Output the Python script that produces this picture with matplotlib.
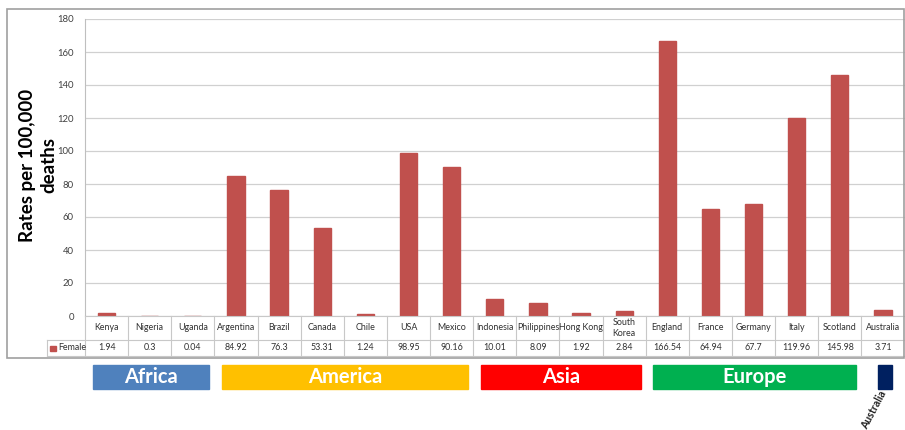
import matplotlib
matplotlib.use("Agg")
import matplotlib.pyplot as plt
from matplotlib.patches import Rectangle

plt.rcParams['font.family'] = ['Lato', 'DejaVu Sans']

countries = ["Kenya", "Nigeria", "Uganda", "Argentina", "Brazil", "Canada", "Chile", "USA",
             "Mexico", "Indonesia", "Philippines", "Hong Kong", "South\nKorea", "England",
             "France", "Germany", "Italy", "Scotland", "Australia"]
female = [1.94, 0.3, 0.04, 84.92, 76.3, 53.31, 1.24, 98.95, 90.16, 10.01, 8.09, 1.92,
          2.84, 166.54, 64.94, 67.7, 119.96, 145.98, 3.71]
female_labels = ["1.94", "0.3", "0.04", "84.92", "76.3", "53.31", "1.24", "98.95", "90.16",
                 "10.01", "8.09", "1.92", "2.84", "166.54", "64.94", "67.7", "119.96",
                 "145.98", "3.71"]
regions = ["Africa", "America", "Asia", "Europe", "Australia"]
region_start = [0, 3, 9, 13, 18]
region_end = [2, 8, 12, 17, 18]
region_colors = ["#4F81BD", "#FFC000", "#FF0000", "#00B050", "#002060"]
yticks = [0, 20, 40, 60, 80, 100, 120, 140, 160, 180]

W, H = 905, 430
fig = plt.figure(figsize=(W / 100, H / 100), dpi=100)

def fax(x0, y0, x1, y1):
    return fig.add_axes([x0 / W, 1 - y1 / H, (x1 - x0) / W, (y1 - y0) / H])

# outer chart border
fig.patches.append(Rectangle((7 / W, 1 - 358 / H), 897 / W, 349 / H, transform=fig.transFigure,
                             fill=False, edgecolor="#A0A0A0", linewidth=1.2))

n = len(countries)
xs = list(range(n))
ax = fax(85, 19, 904.5, 316)
ax.bar(xs, female, width=0.4, color="#C0504D", edgecolor="#C0504D", zorder=3)
ax.set_xlim(-0.5, n - 0.5)
ax.set_ylim(0, 180)
ax.set_yticks(yticks)
ax.set_yticklabels([str(v) for v in yticks], fontsize=6.8, color="#404040")
ax.tick_params(axis="y", length=0, pad=8)
ax.set_xticks([])
ax.yaxis.grid(True, color="#D0D0D0", linewidth=0.9, zorder=0)
for s in ["top", "right", "bottom"]:
    ax.spines[s].set_visible(False)
ax.spines["left"].set_color("#BFBFBF")
fig.text(38 / W, 1 - 165 / H, "Rates per 100,000\ndeaths", rotation=90, ha="center",
         va="center", fontsize=13.5, fontweight="bold", linespacing=1.3)

# data table
tax = fax(85, 316, 904.5, 356)
tax.set_xlim(-0.5, n - 0.5)
tax.set_ylim(0, 40)
tax.axis("off")
lc = "#C8C8C8"
left_ext = -0.5 - 38 / 43.13
tax.plot([-0.5, n - 0.5], [40, 40], color=lc, lw=0.8, clip_on=False)
tax.plot([left_ext, n - 0.5], [16, 16], color=lc, lw=0.8, clip_on=False)
tax.plot([left_ext, n - 0.5], [0, 0], color=lc, lw=0.8, clip_on=False)
tax.plot([left_ext, left_ext], [0, 16], color=lc, lw=0.8, clip_on=False)
for i in range(n + 1):
    tax.plot([i - 0.5, i - 0.5], [0, 40], color=lc, lw=0.8, clip_on=False)
for i, (c, v) in enumerate(zip(countries, female_labels)):
    tax.text(i, 28, c, ha="center", va="center", fontsize=6.4, color="#303030",
             linespacing=1.3)
    tax.text(i, 8, v, ha="center", va="center", fontsize=6.4, color="#303030")
tax.add_patch(Rectangle((left_ext + 0.07, 5.5), 0.13, 5, color="#C0504D", clip_on=False))
tax.text(left_ext + 0.25, 8, "Female", ha="left", va="center", fontsize=6.4, color="#303030")

# region boxes
rax = fax(85, 365, 904.5, 389)
rax.set_xlim(-0.5, n - 0.5)
rax.set_ylim(0, 1)
rax.axis("off")
for name, s, e, col in zip(regions, region_start, region_end, region_colors):
    if s == e:
        x0, x1 = s - 0.12, s + 0.2
        rax.add_patch(Rectangle((x0, 0), x1 - x0, 1, color=col, clip_on=False))
        rax.text(s + 0.02, -0.1, name, rotation=62, rotation_mode="anchor", ha="right",
                 va="center", fontsize=7.6, fontweight="bold", color="#202020",
                 clip_on=False)
    else:
        x0, x1 = s - 0.5 + 0.18, e + 0.5 - 0.12
        rax.add_patch(Rectangle((x0, 0), x1 - x0, 1, color=col, clip_on=False))
        rax.text((x0 + x1) / 2, 0.5, name, ha="center", va="center", fontsize=14.5,
                 fontweight="bold", color="white")

fig.savefig("out.png", dpi=100)
